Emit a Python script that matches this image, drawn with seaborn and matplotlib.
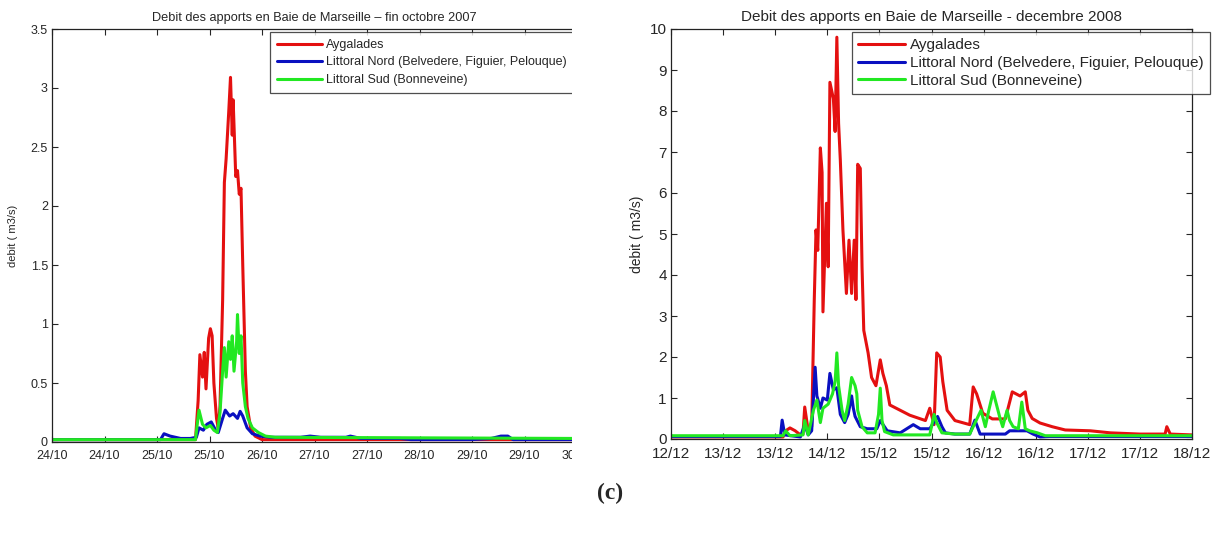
import pandas as pd
import matplotlib
matplotlib.use("Agg")
import matplotlib.pyplot as plt
import seaborn as sns
from matplotlib.patches import Rectangle

sns.set_theme(style="ticks")
plt.rcParams['font.family'] = ['Liberation Sans', 'DejaVu Sans']
plt.rcParams['xtick.direction'] = 'in'
plt.rcParams['ytick.direction'] = 'in'

series_names = ["Aygalades", "Littoral Nord (Belvedere, Figuier, Pelouque)", "Littoral Sud (Bonneveine)"]
colors = ["#e41010", "#0a10c0", "#22e822"]

# --- octobre 2007 (time in days of month) ---
oct_red_t = [24.0, 25.64, 25.67, 25.69, 25.72, 25.74, 25.76, 25.79, 25.81, 25.83, 25.85, 25.88, 25.90,
             25.92, 25.95, 25.97, 25.99, 26.02, 26.04, 26.06, 26.07, 26.10, 26.12, 26.14, 26.16, 26.18,
             26.21, 26.23, 26.27, 26.32, 26.40, 30.0]
oct_red_v = [0.02, 0.02, 0.35, 0.74, 0.55, 0.76, 0.45, 0.88, 0.96, 0.90, 0.50, 0.20, 0.12,
             0.30, 1.20, 2.20, 2.40, 2.80, 3.09, 2.60, 2.90, 2.25, 2.30, 2.10, 2.15, 1.50,
             0.60, 0.30, 0.12, 0.05, 0.02, 0.02]

oct_blue_t = [24.0, 25.24, 25.28, 25.35, 25.47, 25.58, 25.65, 25.68, 25.73, 25.77, 25.82, 25.87, 25.90,
              25.95, 25.98, 26.03, 26.07, 26.12, 26.15, 26.18, 26.23, 26.29, 26.38, 26.50, 26.84, 26.95,
              27.07, 27.36, 27.41, 27.53, 27.98, 28.10, 28.79, 29.02, 29.13, 29.21, 29.27, 30.0]
oct_blue_v = [0.02, 0.02, 0.07, 0.05, 0.03, 0.03, 0.04, 0.12, 0.10, 0.15, 0.17, 0.10, 0.08,
              0.20, 0.27, 0.22, 0.24, 0.20, 0.26, 0.22, 0.12, 0.07, 0.05, 0.04, 0.04, 0.05,
              0.04, 0.04, 0.05, 0.03, 0.03, 0.02, 0.02, 0.03, 0.05, 0.05, 0.02, 0.02]

oct_green_t = [24.0, 25.64, 25.66, 25.68, 25.72, 25.76, 25.81, 25.85, 25.89, 25.92, 25.95, 25.97, 25.99,
               26.02, 26.04, 26.06, 26.08, 26.11, 26.12, 26.14, 26.16, 26.18, 26.21, 26.24, 26.29,
               26.36, 26.44, 26.55, 30.0]
oct_green_v = [0.02, 0.02, 0.15, 0.27, 0.15, 0.12, 0.14, 0.10, 0.08, 0.25, 0.60, 0.80, 0.55,
               0.85, 0.70, 0.90, 0.60, 0.85, 1.08, 0.75, 0.90, 0.50, 0.30, 0.20, 0.12,
               0.08, 0.05, 0.04, 0.03]

oct_ticks = [24.0, 24.6, 25.2, 25.8, 26.4, 27.0, 27.6, 28.2, 28.8, 29.4, 30.0]
oct_labels = ["24/10", "24/10", "25/10", "25/10", "26/10", "27/10", "27/10", "28/10", "29/10", "29/10", "30/10"]

# --- decembre 2008 ---
dec_red_t = [12.0, 13.29, 13.32, 13.37, 13.43, 13.49, 13.52, 13.54, 13.58, 13.62, 13.65, 13.67, 13.69,
             13.72, 13.74, 13.75, 13.79, 13.81, 13.83, 13.87, 13.89, 13.91, 13.93, 13.95, 13.98, 14.02,
             14.05, 14.08, 14.11, 14.13, 14.15, 14.18, 14.20, 14.22, 14.27, 14.31, 14.36, 14.41, 14.44,
             14.48, 14.52, 14.64, 14.75, 14.93, 14.98, 15.03, 15.06, 15.10, 15.13, 15.18, 15.27, 15.44,
             15.48, 15.52, 15.59, 15.70, 15.85, 15.93, 16.02, 16.08, 16.11, 16.16, 16.25, 16.39, 16.54,
             16.83, 17.06, 17.40, 17.69, 17.71, 17.75, 18.0]
dec_red_v = [0.05, 0.05, 0.20, 0.27, 0.20, 0.10, 0.12, 0.78, 0.20, 0.30, 3.40, 5.10, 4.60,
             7.10, 6.50, 3.10, 5.75, 4.20, 8.70, 8.30, 7.50, 9.80, 7.70, 6.80, 5.10, 3.55,
             4.85, 3.55, 4.85, 3.40, 6.70, 6.60, 4.20, 2.65, 2.10, 1.50, 1.30, 1.93, 1.60,
             1.30, 0.83, 0.70, 0.58, 0.45, 0.75, 0.35, 2.10, 2.00, 1.40, 0.70, 0.45, 0.35,
             1.27, 1.10, 0.63, 0.49, 0.49, 1.15, 1.05, 1.15, 0.70, 0.50, 0.39, 0.30, 0.22,
             0.20, 0.15, 0.12, 0.12, 0.30, 0.12, 0.10]

dec_blue_t = [12.0, 13.26, 13.28, 13.31, 13.49, 13.54, 13.58, 13.62, 13.66, 13.68, 13.72, 13.75, 13.80,
              13.83, 13.87, 13.91, 13.95, 14.00, 14.04, 14.08, 14.10, 14.12, 14.18, 14.26, 14.37, 14.41,
              14.49, 14.64, 14.79, 14.87, 14.98, 15.07, 15.12, 15.16, 15.27, 15.44, 15.50, 15.56, 15.85,
              15.90, 16.10, 16.17, 16.25, 16.36, 18.0]
dec_blue_v = [0.06, 0.06, 0.46, 0.10, 0.05, 0.35, 0.10, 0.20, 1.75, 1.05, 0.75, 1.00, 0.95,
              1.60, 1.20, 1.25, 0.60, 0.40, 0.60, 1.05, 0.75, 0.55, 0.30, 0.25, 0.25, 0.45,
              0.20, 0.15, 0.35, 0.25, 0.25, 0.55, 0.30, 0.15, 0.12, 0.12, 0.46, 0.12, 0.12,
              0.20, 0.20, 0.12, 0.05, 0.06, 0.06]

dec_green_t = [12.0, 13.29, 13.32, 13.37, 13.52, 13.54, 13.58, 13.64, 13.68, 13.72, 13.75, 13.81, 13.86,
               13.89, 13.91, 13.93, 13.97, 14.00, 14.04, 14.08, 14.12, 14.14, 14.15, 14.20, 14.26, 14.35,
               14.39, 14.41, 14.43, 14.46, 14.56, 14.98, 15.03, 15.06, 15.12, 15.27, 15.44, 15.50, 15.57,
               15.62, 15.66, 15.71, 15.79, 15.82, 15.87, 15.90, 15.94, 16.00, 16.04, 16.08, 16.13, 16.22,
               16.31, 18.0]
dec_green_v = [0.08, 0.08, 0.20, 0.08, 0.10, 0.45, 0.10, 0.70, 0.95, 0.40, 0.75, 0.85, 1.10,
               1.40, 2.10, 1.30, 0.70, 0.45, 0.85, 1.50, 1.30, 1.10, 0.70, 0.30, 0.15, 0.15,
               0.60, 1.24, 0.45, 0.18, 0.10, 0.10, 0.60, 0.40, 0.15, 0.12, 0.12, 0.39, 0.70,
               0.30, 0.70, 1.15, 0.50, 0.30, 0.70, 0.45, 0.30, 0.25, 0.90, 0.25, 0.20, 0.15,
               0.08, 0.08]

dec_ticks = [12.0, 12.6, 13.2, 13.8, 14.4, 15.0, 15.6, 16.2, 16.8, 17.4, 18.0]
dec_labels = ["12/12", "13/12", "13/12", "14/12", "15/12", "15/12", "16/12", "16/12", "17/12", "17/12", "18/12"]

W, H = 1218, 533
fig = plt.figure(figsize=(W / 100, H / 100), dpi=100)


def box(l, t, r, b):
    return [l / W, 1 - b / H, (r - l) / W, (b - t) / H]


def draw(ax, ts, vs, fs, tfs, lpad):
    for t, v, name, c in zip(ts, vs, series_names, colors):
        df = pd.DataFrame({"t": t, "v": v})
        sns.lineplot(data=df, x="t", y="v", ax=ax, color=c, lw=2.2, label=name,
                     estimator=None, sort=False)
    ax.set_xlabel("")
    ax.set_ylabel("debit ( m3/s)", fontsize=fs, labelpad=lpad)
    for s in ax.spines.values():
        s.set_linewidth(0.9)
        s.set_color("#222222")
    ax.tick_params(axis="both", labelsize=tfs, length=4, width=0.8, top=True)
    ax.tick_params(axis="x", pad=6)
    ax.tick_params(axis="y", pad=3)


# left chart (cropped on the right)
ax1 = fig.add_axes(box(52, 29, 577, 442))
draw(ax1, [oct_red_t, oct_blue_t, oct_green_t], [oct_red_v, oct_blue_v, oct_green_v], 8, 9, 9)
ax1.set_xlim(24, 30)
ax1.set_ylim(0, 3.5)
ax1.set_yticks([0, 0.5, 1, 1.5, 2, 2.5, 3, 3.5])
ax1.set_yticklabels(["0", "0.5", "1", "1.5", "2", "2.5", "3", "3.5"])
ax1.set_xticks(oct_ticks)
ax1.set_xticklabels(oct_labels)
ax1.spines["right"].set_visible(False)
ax1.set_title("Debit des apports en Baie de Marseille \u2013 fin octobre 2007", fontsize=9.2, pad=6)
leg1 = ax1.legend(loc="upper left", bbox_to_anchor=((270 - 52) / 525, 1 - 3 / 413), fontsize=9,
                  frameon=True, fancybox=False, edgecolor="#222222", handlelength=3.6,
                  handletextpad=0.3, borderpad=0.55, labelspacing=0.45, borderaxespad=0)
leg1.get_frame().set_linewidth(0.9)

# right chart
ax2 = fig.add_axes(box(671, 29, 1192, 439))
draw(ax2, [dec_red_t, dec_blue_t, dec_green_t], [dec_red_v, dec_blue_v, dec_green_v], 10, 11, 4)
ax2.set_xlim(12, 18)
ax2.set_ylim(0, 10)
ax2.set_yticks(range(0, 11))
ax2.set_xticks(dec_ticks)
ax2.set_xticklabels(dec_labels)
ax2.tick_params(right=True)
ax2.set_title("Debit des apports en Baie de Marseille - decembre 2008", fontsize=11, pad=6)
leg2 = ax2.legend(loc="upper left", bbox_to_anchor=((852 - 671) / 521, 1 - 3 / 410), fontsize=11,
                  frameon=True, fancybox=False, edgecolor="#222222", handlelength=3.1,
                  handletextpad=0.3, borderpad=0.4, labelspacing=0.25, borderaxespad=0)
leg2.get_frame().set_linewidth(0.9)

# crop of the left picture
fig.patches.append(Rectangle((572 / W, 1 - 470 / H), 46 / W, 470 / H, transform=fig.transFigure,
                             facecolor="white", edgecolor="none", zorder=10))

fig.text(610 / W, 1 - 493 / H, "(c)", ha="center", va="center", fontsize=17,
         fontweight="bold", family="Liberation Serif")

fig.savefig("out.png", dpi=100)
